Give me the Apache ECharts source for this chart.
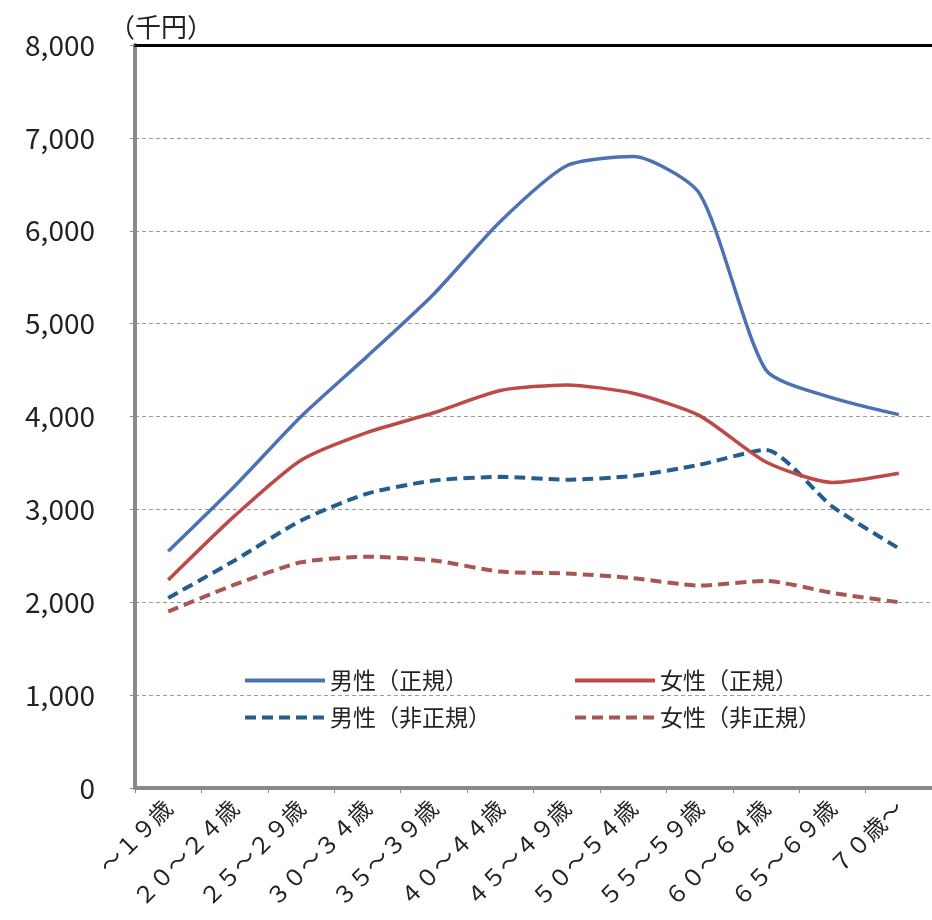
<!DOCTYPE html>
<html>
<head>
<meta charset="utf-8">
<script src="https://cdn.jsdelivr.net/npm/echarts@6/dist/echarts.min.js"></script>
<style>
  html, body { margin: 0; padding: 0; background: #fff; }
  #chart { width: 932px; height: 920px; }
</style>
</head>
<body>
<div id="chart"></div>
<script>
// 年齢階級
const categories = ['～１９歳', '２０～２４歳', '２５～２９歳', '３０～３４歳', '３５～３９歳', '４０～４４歳',
                    '４５～４９歳', '５０～５４歳', '５５～５９歳', '６０～６４歳', '６５～６９歳', '７０歳～'];

// 平均給与（千円）
const maleRegular      = [2550, 3250, 4000, 4650, 5320, 6100, 6700, 6800, 6400, 4500, 4200, 4020];
const femaleRegular    = [2240, 2930, 3530, 3830, 4040, 4280, 4340, 4250, 4010, 3510, 3290, 3390];
const maleIrregular    = [2045, 2450, 2880, 3170, 3310, 3350, 3320, 3360, 3480, 3640, 3030, 2580];
const femaleIrregular  = [1900, 2190, 2430, 2490, 2450, 2330, 2310, 2260, 2180, 2230, 2100, 2000];

const seriesNames = ['男性（正規）', '女性（正規）', '男性（非正規）', '女性（非正規）'];

const yTicks = { min: 0, max: 8000, interval: 1000 };

const jp = '"Noto Sans CJK JP", "Noto Sans", sans-serif';

const chart = echarts.init(document.getElementById('chart'), null, { renderer: 'canvas' });

// one legend entry per block so the four entries sit in two columns
function legendAt(name, left, top) {
  return {
    data: [name],
    left: left,
    top: top,
    itemWidth: 80,
    itemHeight: 14,
    itemGap: 8,
    itemStyle: { opacity: 0, color: 'transparent', borderWidth: 0 },
    lineStyle: { width: 4 },
    textStyle: { fontFamily: jp, fontSize: 23, color: '#222' },
    selectedMode: false
  };
}

function lineSeries(name, data, color, dashed, width) {
  return {
    name: name,
    type: 'line',
    data: data,
    symbol: 'none',
    smooth: 0.22,
    lineStyle: {
      color: color,
      width: width,
      type: dashed ? [11, 6] : 'solid'
    },
    itemStyle: { color: color },
    z: dashed ? 3 : 4
  };
}

chart.setOption({
  animation: false,
  backgroundColor: '#fff',
  title: {
    text: '（千円）',
    left: 104,
    top: 9,
    textStyle: { fontFamily: jp, fontSize: 26, fontWeight: 'normal', color: '#222' }
  },
  legend: [
    legendAt(seriesNames[0], 238, 664),
    legendAt(seriesNames[1], 568, 664),
    legendAt(seriesNames[2], 238, 701),
    legendAt(seriesNames[3], 568, 701)
  ],
  grid: { left: 135, top: 45, right: -12, bottom: 132, containLabel: false },
  xAxis: [
    {
      type: 'category',
      data: categories,
      boundaryGap: true,
      axisLine: { lineStyle: { color: '#8a8a8a', width: 4 } },
      axisTick: { show: true, length: 5, lineStyle: { color: '#8a8a8a', width: 1 } },
      axisLabel: {
        rotate: 45,
        margin: 16,
        interval: 0,
        fontFamily: jp,
        fontSize: 23,
        color: '#222'
      }
    },
    {
      type: 'category',
      data: categories,
      position: 'top',
      axisLine: { lineStyle: { color: '#000', width: 3 } },
      axisTick: { show: false },
      axisLabel: { show: false }
    }
  ],
  yAxis: {
    type: 'value',
    min: yTicks.min,
    max: yTicks.max,
    interval: yTicks.interval,
    axisLine: { show: true, lineStyle: { color: '#8a8a8a', width: 4 } },
    axisTick: { show: true, length: 5, lineStyle: { color: '#8a8a8a' } },
    axisLabel: {
      margin: 40,
      fontFamily: jp,
      fontSize: 28,
      color: '#222',
      formatter: v => v.toLocaleString('en-US')
    },
    splitLine: { show: true, lineStyle: { color: '#9a9a9a', width: 1, type: [4, 3] } }
  },
  series: [
    lineSeries(seriesNames[0], maleRegular, '#4d72b4', false, 3.5),
    lineSeries(seriesNames[1], femaleRegular, '#bd4a48', false, 3.5),
    lineSeries(seriesNames[2], maleIrregular, '#245d8e', true, 4),
    lineSeries(seriesNames[3], femaleIrregular, '#a85654', true, 4)
  ]
});
</script>
</body>
</html>
